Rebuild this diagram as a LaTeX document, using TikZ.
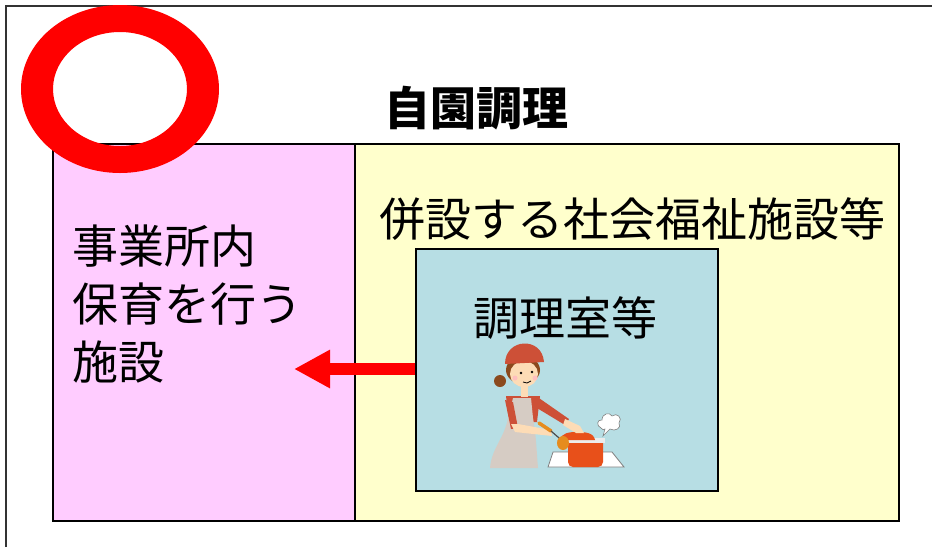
\documentclass[tikz,border=0pt]{standalone}
\usepackage{fontspec}
\setmainfont{Noto Sans CJK JP}
\usepackage{tikz}
\usetikzlibrary{arrows.meta, positioning, calc}
\definecolor{pinkbg}{RGB}{255, 204, 255}
\definecolor{yellowbg}{RGB}{255, 255, 204}
\definecolor{bluebg}{RGB}{183, 222, 228}
\definecolor{capred}{RGB}{205, 80, 55}
\definecolor{potred}{RGB}{232, 80, 26}
\definecolor{skin}{RGB}{253, 220, 182}
\definecolor{hairbrown}{RGB}{139, 74, 30}
\definecolor{apron}{RGB}{214, 204, 196}
\definecolor{ladle}{RGB}{230, 140, 30}

\tikzset{
    box/.style={draw=black, line width=1.5pt, anchor=north west, inner sep=0pt},
    bigtext/.style={font=\fontsize{46}{58}\selectfont, inner sep=0pt},
    bigarrow/.style={red, line width=12pt, -{Triangle[length=36pt, width=36pt]}}
}

\begin{document}
\begin{tikzpicture}[x=1pt, y=-1pt]
    \useasboundingbox (0,0) rectangle (932,547);
    \fill[white] (0,0) rectangle (932,547);
    \draw[line width=1.5pt, black!80] (6,547) -- (6,6) -- (932,6);

    % areas
    \node[box, fill=pinkbg, minimum width=302pt, minimum height=377pt] (pinkbox) at (52,143) {};
    \node[box, fill=yellowbg, minimum width=544pt, minimum height=377pt] (yellowbox) at (354,143) {};
    \node[box, fill=bluebg, minimum width=302pt, minimum height=242pt] (bluebox) at (415,248) {};

    % labels
    \node[bigtext, font=\bfseries\fontsize{46}{58}\selectfont] (title) at (476,108) {自園調理};
    \node[bigtext] (welfare) at (632,219) {併設する社会福祉施設等};
    \node[bigtext] (kitchen) at (565,318) {調理室等};
    \node[bigtext, anchor=west, align=left] (nursery) at (72,304) {事業所内\\保育を行う\\施設};

    % delivery arrow
    \coordinate (arrowtip) at (294,369);
    \draw[bigarrow] (bluebox.west |- arrowtip) -- (arrowtip);

    % cook
    \begin{scope}
        % stove and pot
        \filldraw[fill=white, draw=gray, line width=0.8pt] (553,452) -- (612,452) -- (624,467) -- (548,467) -- cycle;
        \fill[potred] (568,440) -- (603,440) -- (603,462) to[out=-90, in=0] (598,467) -- (573,467) to[out=180, in=-90] (568,462) -- cycle;
        \fill[white!85!gray] (566,438) rectangle (605,443);
        \fill[potred] (560,440) to[out=80, in=180] (577,432) to[out=0, in=100] (595,440) -- cycle;
        \fill[black!70] (575,428) rectangle (580,433);
        % steam
        \filldraw[fill=white, draw=gray, line width=0.6pt]
            (601,428) .. controls (596,426) and (597,419) .. (602,420)
            .. controls (602,413) and (610,412) .. (612,416)
            .. controls (617,412) and (623,418) .. (619,423)
            .. controls (622,428) and (615,432) .. (610,429)
            -- (603,436) -- (605,429) .. controls (603,430) .. cycle;
        % apron and body
        \fill[capred] (506,396) -- (540,396) -- (537,422) -- (509,422) -- cycle;
        \fill[capred] (536,396) -- (569,419) -- (565,425) -- (532,405) -- cycle;
        \fill[skin] (565,419) -- (580,426) -- (584,433) -- (576,433) -- (563,425) -- cycle;
        \fill[apron] (513,398) -- (531,398) -- (533,418) to[out=-80, in=95] (538,468) -- (490,468) to[out=85, in=-100] (508,418) -- cycle;
        \fill[capred] (505,400) -- (513,402) -- (518,428) -- (511,429) -- cycle;
        \fill[skin] (511,424) -- (518,424) -- (551,430) -- (552,436) -- (515,432) -- cycle;
        % ladle
        \draw[ladle, line width=3.5pt, line cap=round] (539,423) -- (551,431);
        \draw[black!70, line width=1.2pt] (551,431) -- (566,444);
        \fill[ladle] (563,443) ellipse [x radius=6, y radius=7];
        % head
        \fill[skin] (521,386) rectangle (528,397);
        \fill[hairbrown] (500,381) circle (6);
        \fill[hairbrown] (523,370) ellipse [x radius=17, y radius=14];
        \fill[skin] (524,374) ellipse [x radius=14, y radius=13];
        \fill[capred] (505,364) .. controls (505,338) and (542,336) .. (544,362) -- cycle;
        \fill[black] (521,373) circle (1.4) (532,372) circle (1.4);
        \fill[pink] (515,378) circle (2.5) (535,378) circle (2.5);
        \draw[black, line width=0.8pt] (523,382) to[out=-40, in=-140] (531,381);
    \end{scope}

    % circle mark
    \fill[red, even odd rule] (120,89) ellipse [x radius=99, y radius=84]
                              (120,89) ellipse [x radius=67, y radius=57];
\end{tikzpicture}
\end{document}
